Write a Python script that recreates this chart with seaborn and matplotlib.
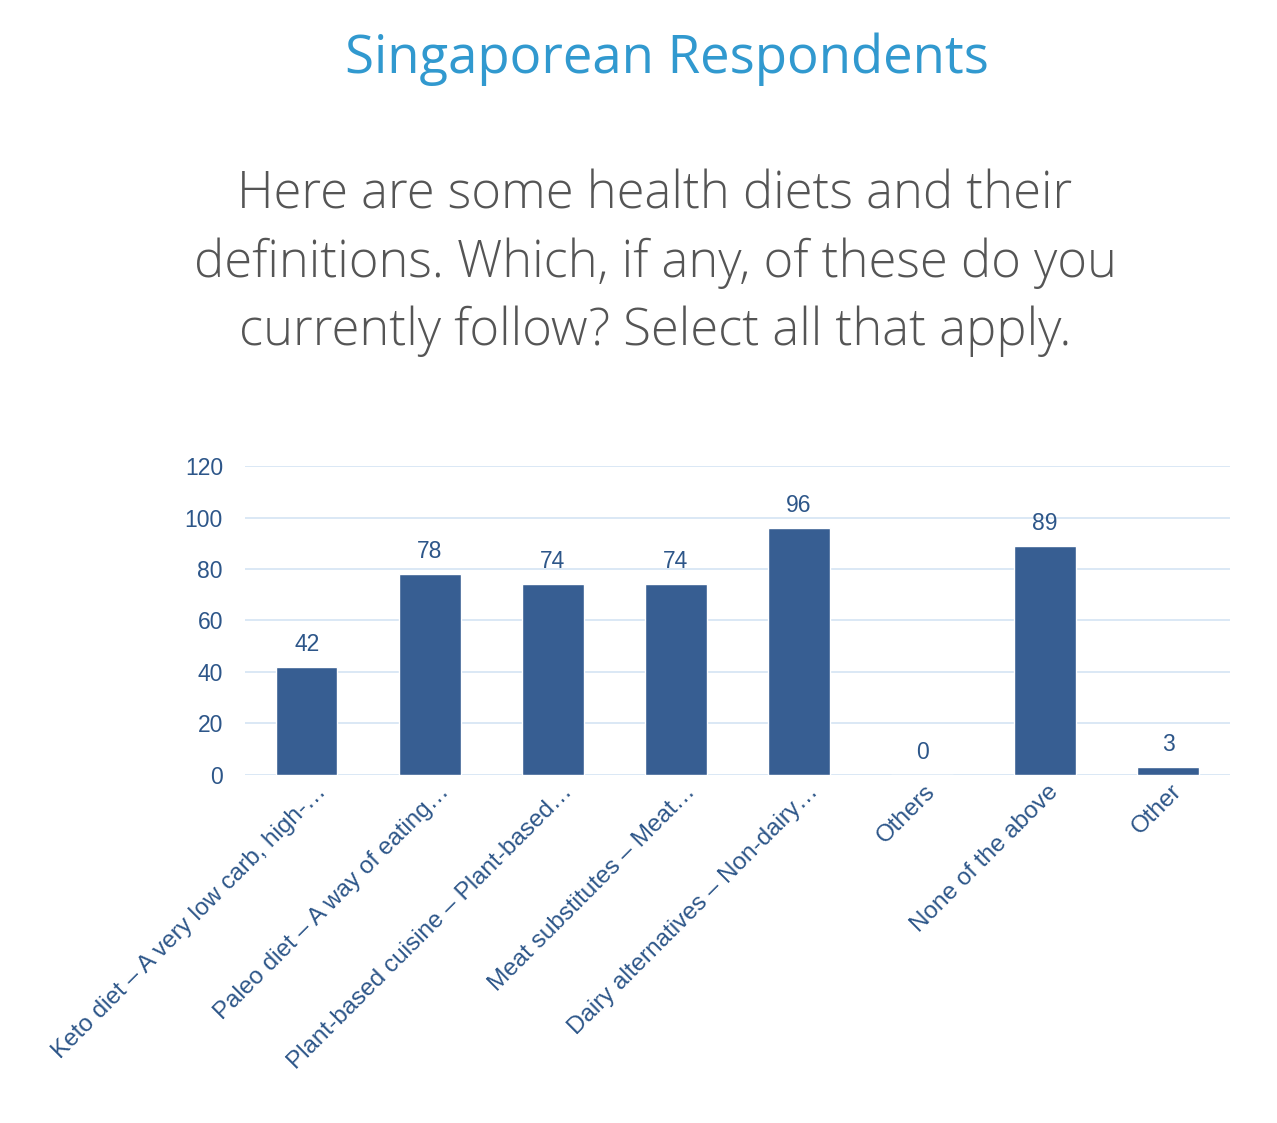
import matplotlib
matplotlib.use("Agg")
import matplotlib.pyplot as plt
import matplotlib.transforms as mtransforms
import seaborn as sns
import pandas as pd

# data
categories = [
    "Keto diet – A very low carb, high-…",
    "Paleo diet – A way of eating…",
    "Plant-based cuisine – Plant-based…",
    "Meat substitutes – Meat…",
    "Dairy alternatives – Non-dairy…",
    "Others",
    "None of the above",
    "Other",
]
counts = [42, 78, 74, 74, 96, 0, 89, 3]
y_ticks = [0, 20, 40, 60, 80, 100, 120]

title = "Singaporean Respondents"
question = ("Here are some health diets and their\n"
            "definitions. Which, if any, of these do you\n"
            "currently follow? Select all that apply.")

bar_color = "#375e92"
text_blue = "#2d5689"
grid_color = "#d8e6f4"

sns.set_theme(style="white")
plt.rcParams['font.family'] = ['Liberation Sans', 'DejaVu Sans']

df = pd.DataFrame({"diet": categories, "count": counts})

fig = plt.figure(figsize=(12.77, 11.23), dpi=100)
fig.patch.set_facecolor("white")
ax = fig.add_axes([0.192, 0.31, 0.771, 0.275])

sns.barplot(data=df, x="diet", y="count", color=bar_color, width=0.5,
            saturation=1, ax=ax, zorder=3)

ax.set_ylim(0, 120)
ax.set_xlim(-0.5, len(categories) - 0.5)
ax.set_yticks(y_ticks)
ax.grid(True, axis="y", color=grid_color, linewidth=1.3, zorder=0)
ax.set_xlabel("")
ax.set_ylabel("")
for s in ax.spines.values():
    s.set_visible(False)

ax.tick_params(axis="y", labelsize=16.5, labelcolor=text_blue, length=0, pad=16)
ax.tick_params(axis="x", labelsize=17.5, labelcolor=text_blue, length=0, pad=4)
for lbl in ax.get_xticklabels():
    lbl.set_rotation(45)
    lbl.set_ha("right")
    lbl.set_rotation_mode("anchor")
    # truncated labels sit a bit further right in the original
    dx = 8 if lbl.get_text().endswith("…") else 2
    lbl.set_transform(lbl.get_transform() +
                      mtransforms.ScaledTranslation(dx / 100, 0, fig.dpi_scale_trans))

# labels above bars
for i, v in enumerate(counts):
    ax.annotate(str(v), (i, v), xytext=(0, 8), textcoords="offset points",
                ha="center", va="bottom", fontsize=16.5, color=text_blue)

fig.text(0.522, 0.947, title, ha="center", va="center", fontsize=38,
         color="#3199cf", family=["Open Sans", "DejaVu Sans"])
fig.text(0.513, 0.766, question, ha="center", va="center", fontsize=36.5,
         color="#555555", linespacing=1.43, fontweight="light",
         family=["Open Sans", "DejaVu Sans"])

fig.savefig("out.png", dpi=100, facecolor="white")
